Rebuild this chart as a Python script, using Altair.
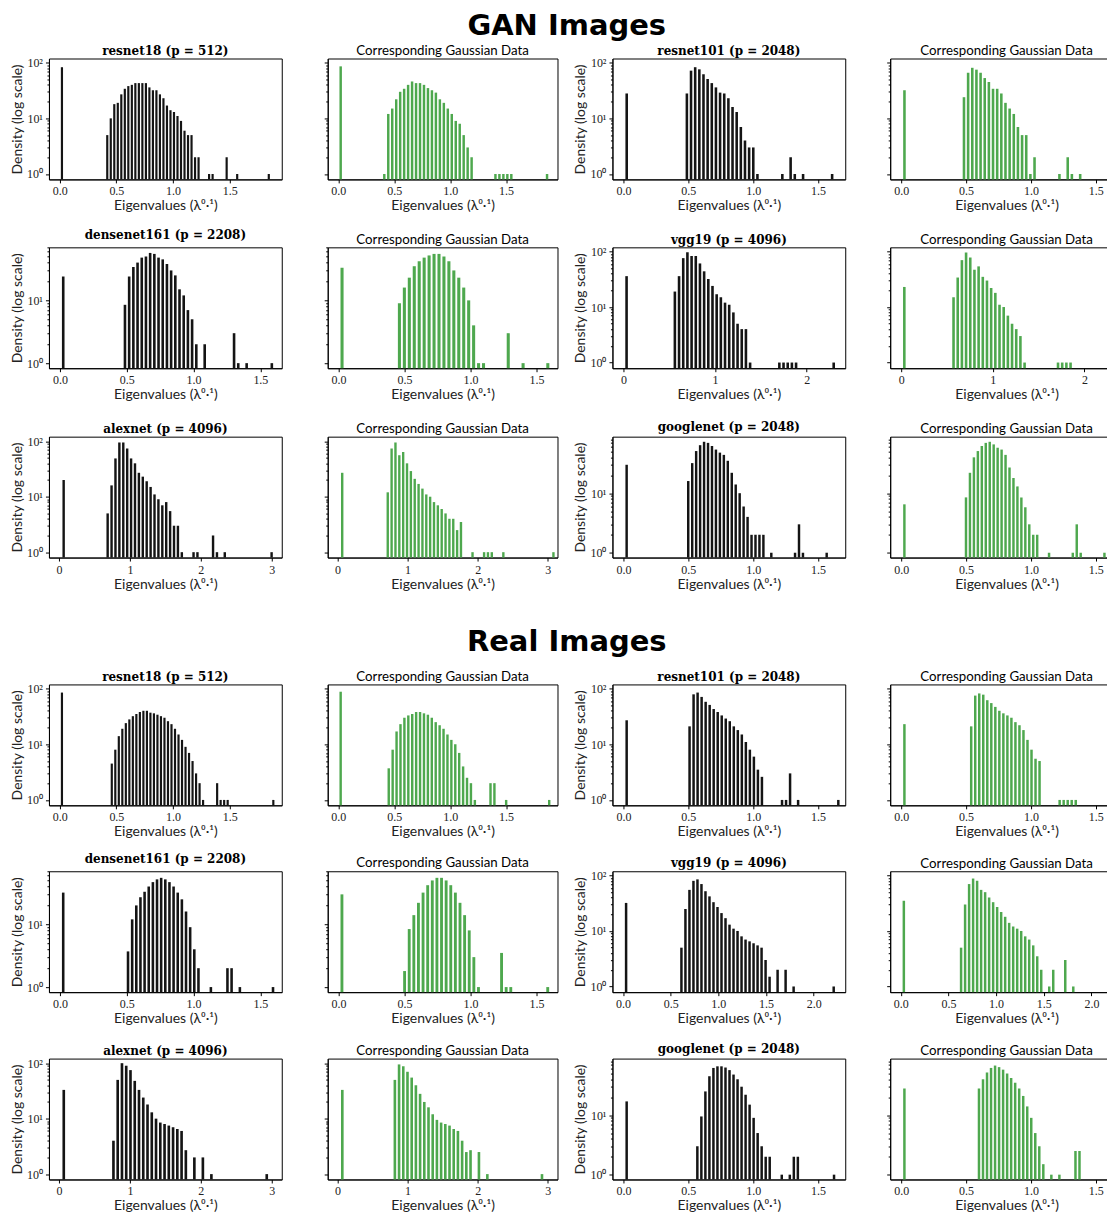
import altair as alt
import pandas as pd

# ---------------- data (histogram counts) ----------------
net_titles = ["resnet18 (p = 512)", "resnet101 (p = 2048)", "densenet161 (p = 2208)",
              "vgg19 (p = 4096)", "alexnet (p = 4096)", "googlenet (p = 2048)"]
gauss_title = "Corresponding Gaussian Data"

# GAN images: bulk-bin counts (first bin at bin_start, equal bin widths)
gan_resnet18 = [5, 10, 18, 19, 27, 34, 38, 40, 43, 43, 43, 43, 36, 32, 32, 27, 23, 17, 14, 13, 11, 9, 6, 5, 5, 2, 2,
                0, 0, 1, 1, 0, 0, 0, 2, 0, 0, 1, 0, 0, 0, 0, 0, 0, 0, 0, 1]
gan_resnet18_gauss = [1, 12, 15, 22, 30, 34, 40, 46, 43, 43, 40, 35, 32, 29, 22, 19, 15, 12, 9, 8, 5, 3, 2,
                      0, 0, 0, 0, 0, 1, 1, 1, 1, 1, 0, 0, 0, 0, 0, 0, 0, 0, 1]
gan_resnet101 = [28, 72, 83, 76, 62, 51, 43, 36, 29, 28, 23, 16, 13, 7, 4, 3, 3, 1,
                 0, 0, 0, 0, 0, 1, 0, 2, 1, 0, 1, 0, 0, 0, 0, 0, 0, 1]
gan_resnet101_gauss = [24, 66, 81, 75, 66, 53, 45, 34, 34, 28, 19, 15, 12, 7, 5, 5, 1, 2,
                       0, 0, 0, 0, 0, 1, 0, 2, 1, 0, 1, 0, 0, 0, 0, 0, 0, 1]
gan_densenet161 = [8.5, 24, 34, 40, 48, 50, 57, 55, 48, 45, 38, 30, 25, 15, 12, 7, 5, 2,
                   0, 2, 0, 0, 0, 0, 0, 0, 3, 1, 0, 1, 0, 0, 0, 0, 0, 1]
gan_densenet161_gauss = [9, 16, 23, 35, 42, 48, 52, 55, 55, 50, 42, 30, 23, 16, 10, 4, 1, 1,
                         0, 0, 0, 0, 3, 0, 0, 1, 0, 0, 0, 0, 1]
gan_vgg19 = [19, 36, 76, 97, 83, 83, 61, 44, 32, 24, 17, 15, 12, 11, 8, 5, 4, 4, 1,
             0, 0, 0, 0, 0, 0, 1, 1, 1, 1, 1, 0, 0, 0, 0, 0, 0, 0, 0, 1]
gan_vgg19_gauss = [15, 34, 70, 96, 78, 47, 54, 35, 30, 22, 18, 11, 10, 7, 5, 4, 3, 1,
                   0, 0, 0, 0, 0, 0, 0, 1, 1, 1, 1, 0, 0, 0, 0, 0, 0, 0, 0, 0, 1]
gan_alexnet = [5, 16, 49, 95, 95, 74, 49, 40, 27, 23, 19, 15, 11, 9, 7, 8, 5.5, 3, 3, 1,
               0, 0, 1, 1, 0, 0, 0, 2, 1, 0, 1, 0, 0, 0, 0, 0, 0, 0, 0, 0, 0, 0, 1]
gan_alexnet_gauss = [12, 74, 95, 56, 64, 40, 29, 21, 17, 14, 11, 10, 8, 7, 6, 5, 4, 4, 2.5, 3.5,
                     0, 0, 1, 0, 0, 1, 1, 1, 0, 0, 1, 0, 0, 0, 0, 0, 0, 0, 0, 0, 0, 0, 0, 1]
gan_googlenet = [16, 32, 51, 64, 73, 70, 62, 54, 48, 44, 35, 22, 14, 10, 6, 4, 2, 2, 2, 2,
                 0, 1, 0, 0, 0, 0, 0, 1, 3, 1, 0, 0, 0, 0, 0, 1]
gan_googlenet_gauss = [8.5, 22, 40, 51, 62, 70, 73, 66, 58, 54, 44, 27, 18, 13, 8.5, 5.8, 3, 2, 2,
                       0, 0, 1, 0, 0, 0, 0, 0, 1, 3, 1, 0, 0, 0, 0, 0, 1]

gan_zero_bin = [0.01, 0.01, 0.015, 0.015, 0.015, 0.015, 0.02, 0.02, 0.05, 0.05, 0.015, 0.015]
gan_zero_count = [83, 86, 28, 32, 24, 33, 36, 23, 20, 27, 30, 6.5]
gan_bin_start = [0.41, 0.40, 0.479, 0.474, 0.477, 0.45, 0.547, 0.557, 0.67, 0.70, 0.49, 0.49]
gan_bin_width = [0.031, 0.0355, 0.032, 0.032, 0.0314, 0.0375, 0.0456, 0.0456, 0.055, 0.055, 0.0305, 0.0305]

# Real images
real_resnet18 = [4.5, 8, 14, 19, 24, 28, 32, 35, 38, 40, 40, 37, 36, 34, 32, 30, 26, 23, 19, 15, 12, 9, 7, 5, 3, 2, 1,
                 0, 0, 0, 2, 1, 1, 1, 0, 0, 0, 0, 0, 0, 0, 0, 0, 0, 0, 0, 1]
real_resnet18_gauss = [3.7, 8, 17, 23, 30, 33, 35, 38, 38, 36, 34, 30, 25, 22, 19, 15, 12, 10, 7, 4, 2.5, 2, 1,
                       0, 0, 0, 2, 2, 0, 0, 1, 0, 0, 0, 0, 0, 0, 0, 0, 0, 0, 1]
real_resnet101 = [21, 79, 85, 71, 58, 51, 43, 38, 33, 29, 26, 21, 18, 15, 11, 8, 6, 3.5, 2.6,
                  0, 0, 0, 0, 1, 1, 3, 0, 1, 0, 0, 0, 0, 0, 0, 0, 0, 0, 1]
real_resnet101_gauss = [21, 75, 82, 78, 62, 55, 47, 40, 36, 33, 30, 25, 22, 18, 12, 8, 5.5, 5,
                        0, 0, 0, 0, 1, 1, 1, 1, 1, 0, 0, 0, 0, 0, 0, 0, 0, 0, 1]
real_densenet161 = [3.7, 12, 20, 27, 33, 40, 47, 52, 55, 52, 47, 40, 32, 25, 16, 9, 4, 2,
                    0, 0, 1, 0, 0, 0, 2, 2, 0, 1, 0, 0, 0, 0, 0, 0, 0, 1]
real_densenet161_gauss = [1.8, 8.4, 14, 22, 32, 42, 50, 55, 55, 50, 42, 32, 22, 14, 8, 3, 1,
                          0, 0, 0, 0, 3.5, 1, 1, 0, 0, 0, 0, 0, 0, 0, 1]
real_vgg19 = [5, 25, 55, 80, 85, 70, 52, 42, 33, 27, 21, 17, 13, 11, 10, 8, 7, 6.5, 6, 5.5, 5, 3, 1.5,
              0, 2, 0, 2, 0, 1, 0, 0, 0, 0, 0, 0, 0, 0, 0, 1]
real_vgg19_gauss = [5, 30, 70, 88, 80, 55, 50, 40, 33, 27, 22, 18, 14, 12, 11, 10, 8, 7, 5.5, 3.5, 2,
                    0, 1, 2, 0, 0, 3, 0, 1, 0, 0, 0, 0, 0, 0, 0, 0, 0, 0, 1]
real_alexnet = [4, 50, 100, 90, 75, 48, 33, 24, 18, 13, 10, 8.5, 8, 7.5, 7, 6.5, 6, 2.7,
                0, 2, 0, 2, 0, 1, 0, 0, 0, 0, 0, 0, 0, 0, 0, 0, 0, 0, 1]
real_alexnet_gauss = [50, 95, 88, 70, 55, 40, 28, 20, 16, 12, 9.5, 8.5, 8, 7.5, 6.5, 6, 4, 2.5, 2.7,
                      0, 2.5, 0, 1, 0, 0, 0, 0, 0, 0, 0, 0, 0, 0, 0, 0, 1]
real_googlenet = [3, 9.5, 25, 45, 62, 66, 66, 63, 57, 48, 40, 30, 22, 15, 9, 5, 3, 2, 2,
                  0, 0, 1, 0, 1, 2, 2, 0, 0, 0, 0, 0, 0, 0, 0, 1]
real_googlenet_gauss = [28, 40, 52, 62, 68, 64, 58, 50, 42, 35, 28, 21, 14, 9, 5, 3, 1.5,
                        0, 1, 0, 1, 0, 0, 0, 2.5, 2.5, 0, 0, 0, 0, 0, 0, 0, 1]

real_zero_bin = [0.01, 0.01, 0.015, 0.015, 0.015, 0.015, 0.02, 0.02, 0.05, 0.05, 0.015, 0.015]
real_zero_count = [85, 88, 27, 23, 32, 30, 32, 35, 33, 33, 17, 28]
real_bin_start = [0.45, 0.44, 0.50, 0.53, 0.50, 0.49, 0.60, 0.62, 0.75, 0.80, 0.56, 0.59]
real_bin_width = [0.031, 0.035, 0.031, 0.031, 0.031, 0.035, 0.042, 0.042, 0.06, 0.06, 0.031, 0.031]

# tick values of the x axes
ticks_half = [0, 0.5, 1.0, 1.5]
ticks_half_2 = [0, 0.5, 1.0, 1.5, 2.0]
ticks_int_2 = [0, 1, 2]
ticks_int_3 = [0, 1, 2, 3]

gan_series = [gan_resnet18, gan_resnet18_gauss, gan_resnet101, gan_resnet101_gauss,
              gan_densenet161, gan_densenet161_gauss, gan_vgg19, gan_vgg19_gauss,
              gan_alexnet, gan_alexnet_gauss, gan_googlenet, gan_googlenet_gauss]
real_series = [real_resnet18, real_resnet18_gauss, real_resnet101, real_resnet101_gauss,
               real_densenet161, real_densenet161_gauss, real_vgg19, real_vgg19_gauss,
               real_alexnet, real_alexnet_gauss, real_googlenet, real_googlenet_gauss]

# ---------------- layout / style (not data) ----------------
COL_W = [233, 230, 233, 233]
H = 121
BAR_FRAC = 0.62
BLACK = "#141414"
GREEN = "#4ea84e"

# per network: x domain, x ticks, x format, y domain  (GAN, Real)
axes_cfg = {
    "gan": [
        ([-0.095, 1.96], ticks_half, ".1f", [0.8, 119]),
        ([-0.085, 1.71], ticks_half, ".1f", [0.8, 119]),
        ([-0.082, 1.66], ticks_half, ".1f", [0.83, 70]),
        ([-0.12, 2.42], ticks_int_2, "d", [0.79, 119]),
        ([-0.14, 3.14], ticks_int_3, "d", [0.8, 121]),
        ([-0.085, 1.71], ticks_half, ".1f", [0.83, 89]),
    ],
    "real": [
        ([-0.095, 1.96], ticks_half, ".1f", [0.8, 119]),
        ([-0.085, 1.71], ticks_half, ".1f", [0.8, 119]),
        ([-0.082, 1.66], ticks_half, ".1f", [0.83, 70]),
        ([-0.11, 2.33], ticks_half_2, ".1f", [0.79, 119]),
        ([-0.14, 3.14], ticks_int_3, "d", [0.8, 121]),
        ([-0.085, 1.71], ticks_half, ".1f", [0.83, 89]),
    ],
}

sections = {
    "gan": (gan_series, gan_zero_bin, gan_zero_count, gan_bin_start, gan_bin_width),
    "real": (real_series, real_zero_bin, real_zero_count, real_bin_start, real_bin_width),
}

LABEL_EXPR = ("datum.value == 1 ? '10\u2070' : datum.value == 10 ? '10\u00b9' : "
              "datum.value == 100 ? '10\u00b2' : ''")
MAJOR_TEST = "datum.value == 1 || datum.value == 10 || datum.value == 100"


def make_panel(sec, k):
    series, zbin, zcount, bstart, bwidth = sections[sec]
    net = k // 2
    col = k % 4
    gauss = (k % 2) == 1
    xdom, xticks, xfmt, ydom = axes_cfg[sec][net]
    counts = series[k]
    w = bwidth[k]
    lows = [zbin[k]] + [bstart[k] + i * w for i in range(len(counts))]
    ns = [zcount[k]] + list(counts)
    df = pd.DataFrame({"lo": lows, "n": ns})
    df = df[df["n"] > 0].copy()
    df["hi"] = df["lo"] + BAR_FRAC * w
    df["base"] = ydom[0]

    yvals = [m * 10 ** e for e in range(0, 3) for m in range(1, 10)
             if ydom[0] <= m * 10 ** e <= ydom[1]]

    if gauss:
        yaxis = alt.Axis(values=yvals, labels=False, title="",
                         tickSize={"condition": {"test": MAJOR_TEST, "value": 3.5}, "value": 2})
        ttl = alt.TitleParams(gauss_title, font="Lato", fontSize=13.3, fontWeight="normal",
                              offset=1, anchor="middle", frame="group")
    else:
        yaxis = alt.Axis(values=yvals, labelExpr=LABEL_EXPR, labelOverlap=False,
                         title="Density (log scale)",
                         tickSize={"condition": {"test": MAJOR_TEST, "value": 3.5}, "value": 2})
        ttl = alt.TitleParams(net_titles[net], font="DejaVu Serif", fontSize=12,
                              fontWeight="bold", offset=-1, anchor="middle", frame="group")

    color = GREEN if gauss else BLACK
    return alt.Chart(df).mark_rect(color=color).encode(
        x=alt.X("lo:Q", scale=alt.Scale(domain=xdom, nice=False, zero=False),
                axis=alt.Axis(values=xticks, format=xfmt, title="Eigenvalues (\u03bb\u2070\u00b7\u00b9)",
                              labelFlush=False, tickSize=3.5)),
        x2="hi:Q",
        y=alt.Y("n:Q", scale=alt.Scale(type="log", domain=ydom, nice=False), axis=yaxis),
        y2="base:Q",
    ).properties(width=COL_W[col], height=H, title=ttl)


def make_row(sec, r):
    p = [make_panel(sec, 4 * r + j) for j in range(4)]
    return alt.hconcat(alt.hconcat(p[0], p[1], spacing=40),
                       alt.hconcat(p[2], p[3], spacing=39), spacing=15)


def make_section(sec, label, gap12, gap23, title_gap):
    rows = [make_row(sec, r) for r in range(3)]
    return alt.vconcat(rows[0], alt.vconcat(rows[1], rows[2], spacing=gap23), spacing=gap12,
                       title=alt.TitleParams(label, font="DejaVu Sans", fontSize=29,
                                             fontWeight="bold", anchor="middle", offset=title_gap))


chart = alt.vconcat(make_section("gan", "GAN Images", 15, 18.5, 3),
                    make_section("real", "Real Images", 13, 16.5, 13),
                    spacing=35.5).properties(
    padding={"top": 3, "bottom": 1, "left": 2, "right": -17}
).configure_view(
    stroke="black", strokeWidth=1
).configure_axis(
    grid=False, domainColor="black", tickColor="black", labelColor="#222222",
    titleColor="#222222", labelFont="Liberation Serif", labelFontSize=12,
    titleFont="Lato", titleFontSize=14, titleFontWeight="normal", labelPadding=3,
    titlePadding=2
)

chart.save("out.html", embed_options={"renderer": "svg", "actions": False})
